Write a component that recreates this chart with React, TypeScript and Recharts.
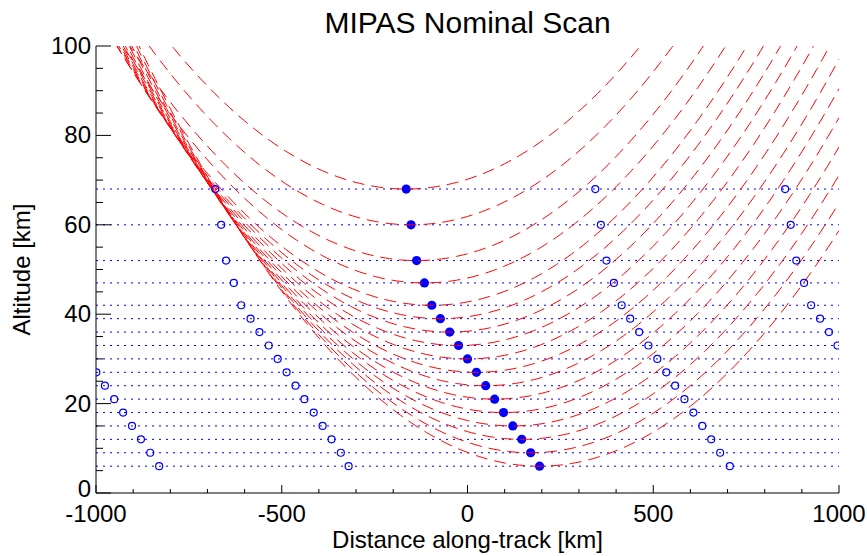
import React from "react";
import { ComposedChart, Line, Scatter, XAxis, YAxis, ReferenceLine } from "recharts";

// tangent altitudes of the nominal scan [km]
const tangentAlt = [68, 60, 52, 47, 42, 39, 36, 33, 30, 27, 24, 21, 18, 15, 12, 9, 6];
// current scan tangent points, distance along track [km]
const tangentDist = [-165, -152, -137, -116, -96, -73, -48, -24, 0, 24, 49, 73, 97, 122, 146, 170, 194];
// neighbouring scans (open circles)
const prevScanDist = [-679, -663, -650, -629, -609, -584, -560, -535, -511, -487, -463, -439, -414, -390, -366, -341, -320];
const nextScanDist = [344, 359, 374, 394, 415, 438, 462, 487, 511, 535, 559, 584, 608, 632, 656, 680, 706];
const prevScan2Alt = [27, 24, 21, 18, 15, 12, 9, 6];
const prevScan2Dist = [-999, -976, -951, -927, -903, -879, -854, -830];
const nextScan2Alt = [68, 60, 52, 47, 42, 39, 36, 33];
const nextScan2Dist = [855, 870, 885, 906, 925, 949, 973, 996];

const xTicks = [-1000, -900, -800, -700, -600, -500, -400, -300, -200, -100, 0, 100, 200, 300, 400, 500, 600, 700, 800, 900, 1000];
const yTicks = [0, 5, 10, 15, 20, 25, 30, 35, 40, 45, 50, 55, 60, 65, 70, 75, 80, 85, 90, 95, 100];

// effective radius used for the line-of-sight geometry
const EARTH_RADIUS = 6130;
const sampleDist = xTicks.flatMap((t, i) => (i < xTicks.length - 1 ? [0, 1, 2, 3, 4, 5, 6, 7, 8, 9].map((k) => t + k * 10) : [t]));

const lineOfSight = (alt: number, dist: number) =>
  sampleDist.map((x) => {
    const d = x - dist;
    return { x, y: Math.sqrt((EARTH_RADIUS + alt) ** 2 + d * d) - EARTH_RADIUS };
  });

const toPoints = (xs: number[], ys: number[]) => xs.map((x, i) => ({ x, y: ys[i] }));

const FONT = "'Liberation Sans', Arial, Helvetica, sans-serif";
const BLUE = "#0000ff";
const RED = "#ff0000";

const BottomTick = (p: any) => {
  const major = p.payload.value % 500 === 0;
  return (
    <g>
      <line x1={p.x} y1={p.y} x2={p.x} y2={p.y - (major ? 8 : 4)} stroke="#000" />
      {major && (
        <text x={p.x} y={p.y + 29} textAnchor="middle" fontSize={24} fontFamily={FONT} fill="#000">
          {p.payload.value}
        </text>
      )}
    </g>
  );
};

const TopTick = (p: any) => {
  const major = p.payload.value % 500 === 0;
  return <line x1={p.x} y1={p.y} x2={p.x} y2={p.y + (major ? 8 : 4)} stroke="#000" />;
};

const LeftTick = (p: any) => {
  const major = p.payload.value % 20 === 0;
  return (
    <g>
      <line x1={p.x} y1={p.y} x2={p.x + (major ? 15 : 7)} y2={p.y} stroke="#000" />
      {major && (
        <text x={p.x - 5} y={p.y + (p.payload.value === 0 ? 4 : 8)} textAnchor="end" fontSize={24} fontFamily={FONT} fill="#000">
          {p.payload.value}
        </text>
      )}
    </g>
  );
};

const RightTick = (p: any) => {
  const major = p.payload.value % 20 === 0;
  return <line x1={p.x} y1={p.y} x2={p.x - (major ? 15 : 7)} y2={p.y} stroke="#000" />;
};

const openCircle = (p: any) => <circle cx={p.cx} cy={p.cy} r={3.5} fill="none" stroke={BLUE} strokeWidth={1.2} />;
const filledCircle = (p: any) => <circle cx={p.cx} cy={p.cy} r={4.6} fill={BLUE} />;

export default function App() {
  const openPts = [
    ...toPoints(prevScanDist, tangentAlt),
    ...toPoints(nextScanDist, tangentAlt),
    ...toPoints(prevScan2Dist, prevScan2Alt),
    ...toPoints(nextScan2Dist, nextScan2Alt),
  ];
  const filledPts = toPoints(tangentDist, tangentAlt);

  return (
    <div style={{ position: "fixed", left: 0, top: 0, width: 867, height: 556, background: "#fff" }}>
      <ComposedChart width={867} height={556} margin={{ top: 46, right: 28, bottom: 0, left: 0 }}>
        <XAxis xAxisId="b" type="number" dataKey="x" domain={[-1000, 1000]} ticks={xTicks} interval={0}
          allowDataOverflow height={63} tickSize={0} tickMargin={0} tickLine={false}
          axisLine={{ stroke: "#000" }} tick={BottomTick} />
        <XAxis xAxisId="t" orientation="top" type="number" dataKey="x" domain={[-1000, 1000]} ticks={xTicks}
          interval={0} allowDataOverflow height={0} tickSize={0} tickMargin={0} tickLine={false}
          axisLine={{ stroke: "#000" }} tick={TopTick} />
        <YAxis yAxisId="l" type="number" dataKey="y" domain={[0, 100]} ticks={yTicks} interval={0}
          allowDataOverflow width={96} tickSize={0} tickMargin={0} tickLine={false}
          axisLine={{ stroke: "#000" }} tick={LeftTick} />
        <YAxis yAxisId="r" orientation="right" type="number" dataKey="y" domain={[0, 100]} ticks={yTicks}
          interval={0} allowDataOverflow width={0} tickSize={0} tickMargin={0} tickLine={false}
          axisLine={{ stroke: "#000" }} tick={RightTick} />

        {tangentAlt.map((alt) => (
          <ReferenceLine key={"h" + alt} y={alt} xAxisId="b" yAxisId="l" stroke={BLUE} strokeWidth={1}
            strokeDasharray="2 5" />
        ))}

        <Scatter data={filledPts} xAxisId="b" yAxisId="l" shape={filledCircle} isAnimationActive={false} zIndex={300} />

        {tangentAlt.map((alt, i) => (
          <Line key={"los" + alt} data={lineOfSight(alt, tangentDist[i])} dataKey="y" xAxisId="b" yAxisId="l"
            type="linear" stroke={RED} strokeWidth={1} strokeDasharray="12 7" dot={false} activeDot={false}
            isAnimationActive={false} />
        ))}

        <Scatter data={openPts} xAxisId="b" yAxisId="l" shape={openCircle} isAnimationActive={false} />

        <text x={467.5} y={33} textAnchor="middle" fontSize={30} fontFamily={FONT} fill="#000">
          MIPAS Nominal Scan
        </text>
        <text x={467.5} y={548} textAnchor="middle" fontSize={24} fontFamily={FONT} fill="#000">
          Distance along-track [km]
        </text>
        <text transform="translate(30,269.5) rotate(-90)" textAnchor="middle" fontSize={24} fontFamily={FONT} fill="#000">
          Altitude [km]
        </text>
      </ComposedChart>
    </div>
  );
}
